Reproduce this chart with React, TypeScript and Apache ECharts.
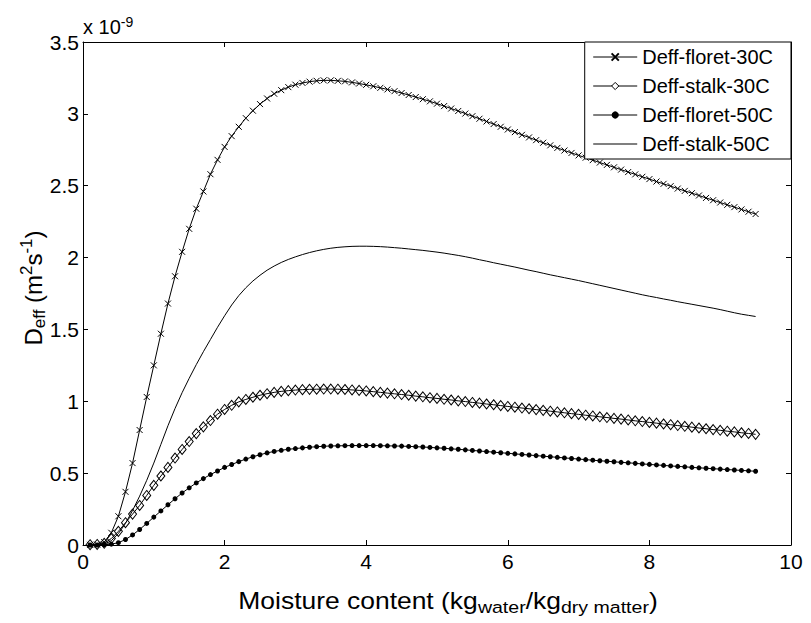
import React, { useEffect, useRef } from "react";
import * as echarts from "echarts";

const xValues = [
  0.1, 0.2, 0.3, 0.4, 0.5, 0.6, 0.7, 0.8, 0.9, 1.0,
  1.1, 1.2, 1.3, 1.4, 1.5, 1.6, 1.7, 1.8, 1.9, 2.0,
  2.1, 2.2, 2.3, 2.4, 2.5, 2.6, 2.7, 2.8, 2.9, 3.0,
  3.1, 3.2, 3.3, 3.4, 3.5, 3.6, 3.7, 3.8, 3.9, 4.0,
  4.1, 4.2, 4.3, 4.4, 4.5, 4.6, 4.7, 4.8, 4.9, 5.0,
  5.1, 5.2, 5.3, 5.4, 5.5, 5.6, 5.7, 5.8, 5.9, 6.0,
  6.1, 6.2, 6.3, 6.4, 6.5, 6.6, 6.7, 6.8, 6.9, 7.0,
  7.1, 7.2, 7.3, 7.4, 7.5, 7.6, 7.7, 7.8, 7.9, 8.0,
  8.1, 8.2, 8.3, 8.4, 8.5, 8.6, 8.7, 8.8, 8.9, 9.0,
  9.1, 9.2, 9.3, 9.4, 9.5,
];

// values in units of 1e-9 m^2/s
const floret30 = [
  0.001, 0.003, 0.02, 0.085, 0.2, 0.37, 0.57, 0.8, 1.03, 1.25,
  1.47, 1.68, 1.87, 2.04, 2.2, 2.34, 2.46, 2.58, 2.68, 2.77,
  2.845, 2.91, 2.97, 3.022, 3.068, 3.107, 3.14, 3.165, 3.186, 3.203,
  3.215, 3.224, 3.23, 3.233, 3.233, 3.23, 3.226, 3.219, 3.211, 3.202,
  3.192, 3.181, 3.17, 3.158, 3.145, 3.131, 3.117, 3.102, 3.087, 3.071,
  3.054, 3.037, 3.02, 3.002, 2.984, 2.966, 2.947, 2.929, 2.91, 2.891,
  2.873, 2.854, 2.836, 2.817, 2.799, 2.781, 2.763, 2.745, 2.728, 2.711,
  2.695, 2.678, 2.661, 2.645, 2.628, 2.612, 2.595, 2.579, 2.562, 2.546,
  2.529, 2.513, 2.497, 2.48, 2.464, 2.448, 2.432, 2.415, 2.399, 2.383,
  2.367, 2.351, 2.335, 2.319, 2.303,
];

const stalk30 = [
  0.002, 0.004, 0.012, 0.045, 0.095, 0.155, 0.215, 0.275, 0.345, 0.415,
  0.48, 0.54, 0.605, 0.665, 0.72, 0.775, 0.822, 0.866, 0.91, 0.943,
  0.972, 0.996, 1.013, 1.028, 1.042, 1.053, 1.062, 1.069, 1.074, 1.078,
  1.081, 1.083, 1.084, 1.085, 1.085, 1.084, 1.082, 1.079, 1.076, 1.072,
  1.067, 1.062, 1.057, 1.052, 1.047, 1.042, 1.036, 1.031, 1.025, 1.02,
  1.014, 1.009, 1.003, 0.998, 0.992, 0.987, 0.981, 0.976, 0.97, 0.964,
  0.959, 0.953, 0.948, 0.942, 0.937, 0.931, 0.926, 0.92, 0.914, 0.909,
  0.903, 0.898, 0.892, 0.887, 0.881, 0.876, 0.87, 0.864, 0.859, 0.853,
  0.848, 0.842, 0.837, 0.831, 0.826, 0.82, 0.814, 0.809, 0.803, 0.798,
  0.792, 0.787, 0.781, 0.776, 0.77,
];

const floret50 = [
  0.0, 0.0, 0.002, 0.006, 0.016, 0.038, 0.07, 0.108, 0.15, 0.194,
  0.237, 0.28, 0.322, 0.362, 0.398, 0.432, 0.462, 0.49, 0.515, 0.54,
  0.56, 0.58, 0.598, 0.614, 0.628, 0.641, 0.651, 0.659, 0.666, 0.671,
  0.676, 0.68, 0.684, 0.687, 0.689, 0.69, 0.691, 0.692, 0.692, 0.692,
  0.692, 0.691, 0.69, 0.689, 0.688, 0.686, 0.684, 0.682, 0.679, 0.676,
  0.673, 0.669, 0.666, 0.662, 0.658, 0.654, 0.65, 0.646, 0.642, 0.638,
  0.634, 0.63, 0.626, 0.622, 0.618, 0.614, 0.61, 0.606, 0.602, 0.598,
  0.594, 0.59, 0.586, 0.583, 0.579, 0.575, 0.572, 0.568, 0.564, 0.561,
  0.557, 0.554, 0.55, 0.547, 0.544, 0.54, 0.537, 0.534, 0.531, 0.528,
  0.525, 0.522, 0.519, 0.516, 0.513,
];

const stalk50 = [
  0.0, 0.0, 0.005, 0.03, 0.08, 0.15, 0.24, 0.34, 0.45, 0.57,
  0.7, 0.83, 0.95, 1.06, 1.16, 1.255, 1.345, 1.43, 1.515, 1.595,
  1.67, 1.735, 1.79, 1.837, 1.877, 1.912, 1.941, 1.966, 1.987, 2.005,
  2.021, 2.035, 2.047, 2.057, 2.065, 2.071, 2.075, 2.078, 2.079, 2.079,
  2.078, 2.076, 2.073, 2.069, 2.065, 2.06, 2.055, 2.05, 2.044, 2.038,
  2.031, 2.023, 2.015, 2.006, 1.996, 1.985, 1.975, 1.964, 1.954, 1.944,
  1.934, 1.923, 1.912, 1.902, 1.891, 1.88, 1.87, 1.86, 1.85, 1.84,
  1.829, 1.818, 1.807, 1.796, 1.785, 1.774, 1.763, 1.752, 1.741, 1.731,
  1.722, 1.712, 1.703, 1.693, 1.684, 1.675, 1.666, 1.657, 1.648, 1.638,
  1.627, 1.616, 1.606, 1.598, 1.59,
];

const seriesNames = ["Deff-floret-30C", "Deff-stalk-30C", "Deff-floret-50C", "Deff-stalk-50C"];

const pair = (ys: number[]) => xValues.map((x, i) => [x, ys[i]]);

const FONT = "Liberation Sans";

export default function App() {
  const ref = useRef<HTMLDivElement>(null);
  useEffect(() => {
    if (!ref.current) return;
    const chart = echarts.init(ref.current, undefined, { renderer: "svg" });
    const axisCommon = {
      type: "value" as const,
      axisLine: { show: true, onZero: false, lineStyle: { color: "#000", width: 1 } },
      axisTick: { show: true, inside: true, length: 5, lineStyle: { color: "#000" } },
      splitLine: { show: false },
    };
    const black = "#000";
    chart.setOption({
      animation: false,
      backgroundColor: "#fff",
      grid: { left: 83, right: 20, top: 42, bottom: 78, containLabel: false },
      xAxis: [
        {
          ...axisCommon,
          min: 0,
          max: 10,
          interval: 2,
          position: "bottom",
          axisLabel: { color: black, fontFamily: FONT, fontSize: 21, margin: 6 },
        },
        {
          ...axisCommon,
          min: 0,
          max: 10,
          interval: 2,
          position: "top",
          axisLabel: { show: false },
        },
      ],
      yAxis: [
        {
          ...axisCommon,
          min: 0,
          max: 3.5,
          interval: 0.5,
          position: "left",
          axisLabel: { color: black, fontFamily: FONT, fontSize: 21, margin: 4 },
        },
        {
          ...axisCommon,
          min: 0,
          max: 3.5,
          interval: 0.5,
          position: "right",
          axisLabel: { show: false },
        },
      ],
      legend: {
        orient: "vertical",
        right: 20,
        top: 42,
        padding: [5, 18, 5, 8],
        itemGap: 9,
        itemWidth: 44,
        itemHeight: 9,
        backgroundColor: "#fff",
        borderColor: "#000",
        borderWidth: 1,
        borderRadius: 0,
        lineStyle: { width: 1 },
        textStyle: { color: black, fontFamily: FONT, fontSize: 20 },
        data: [
          { name: seriesNames[0] },
          { name: seriesNames[1], itemStyle: { color: "#fff", borderColor: black, borderWidth: 1 } },
          { name: seriesNames[2] },
          { name: seriesNames[3], icon: "path://M0,0H44V1H0Z" },
        ],
      },
      graphic: [
        {
          type: "text",
          x: 448,
          y: 601,
          scaleX: 1.15,
          style: {
            text: "{a|Moisture content (kg}{b|water}{a|/kg}{b|dry matter}{a|)}",
            align: "center",
            verticalAlign: "middle",
            fill: black,
            rich: {
              a: { fontFamily: FONT, fontSize: 23, lineHeight: 29, verticalAlign: "middle", fill: black },
              b: { fontFamily: FONT, fontSize: 17, lineHeight: 17, verticalAlign: "bottom", fill: black },
            },
          },
        },
        {
          type: "text",
          x: 33,
          y: 288,
          rotation: Math.PI / 2,
          style: {
            text: "{a|D}{b|eff}{a| (m}{c|2}{a|s}{c|-1}{a|)}",
            align: "center",
            verticalAlign: "middle",
            fill: black,
            rich: {
              a: { fontFamily: FONT, fontSize: 24, lineHeight: 30, verticalAlign: "middle", fill: black },
              b: { fontFamily: FONT, fontSize: 17, lineHeight: 17, verticalAlign: "bottom", fill: black },
              c: { fontFamily: FONT, fontSize: 17, lineHeight: 17, verticalAlign: "top", fill: black },
            },
          },
        },
        {
          type: "text",
          x: 83,
          y: 27,
          style: {
            text: "{a|x 10}{c|-9}",
            align: "left",
            verticalAlign: "middle",
            fill: black,
            rich: {
              a: { fontFamily: FONT, fontSize: 20, lineHeight: 24, verticalAlign: "middle", fill: black },
              c: { fontFamily: FONT, fontSize: 14, lineHeight: 14, verticalAlign: "top", fill: black },
            },
          },
        },
      ],
      series: [
        {
          name: seriesNames[0],
          type: "line",
          data: pair(floret30),
          symbol: "path://M0,0L10,10M10,0L0,10",
          symbolSize: 6,
          showAllSymbol: true,
          lineStyle: { color: black, width: 1 },
          itemStyle: { color: "transparent", borderColor: black, borderWidth: 1 },
        },
        {
          name: seriesNames[1],
          type: "line",
          data: pair(stalk30),
          symbol: "diamond",
          symbolSize: [8, 10],
          showAllSymbol: true,
          lineStyle: { color: black, width: 1 },
          itemStyle: { color: "transparent", borderColor: black, borderWidth: 1 },
        },
        {
          name: seriesNames[2],
          type: "line",
          data: pair(floret50),
          symbol: "circle",
          symbolSize: 5,
          showAllSymbol: true,
          lineStyle: { color: black, width: 1 },
          itemStyle: { color: black, borderColor: black, borderWidth: 0 },
        },
        {
          name: seriesNames[3],
          type: "line",
          data: pair(stalk50),
          symbol: "none",
          lineStyle: { color: black, width: 1 },
          itemStyle: { color: black },
        },
      ],
    });
    return () => chart.dispose();
  }, []);
  return <div ref={ref} style={{ width: 811, height: 623, position: "absolute", left: 0, top: 0 }} />;
}
